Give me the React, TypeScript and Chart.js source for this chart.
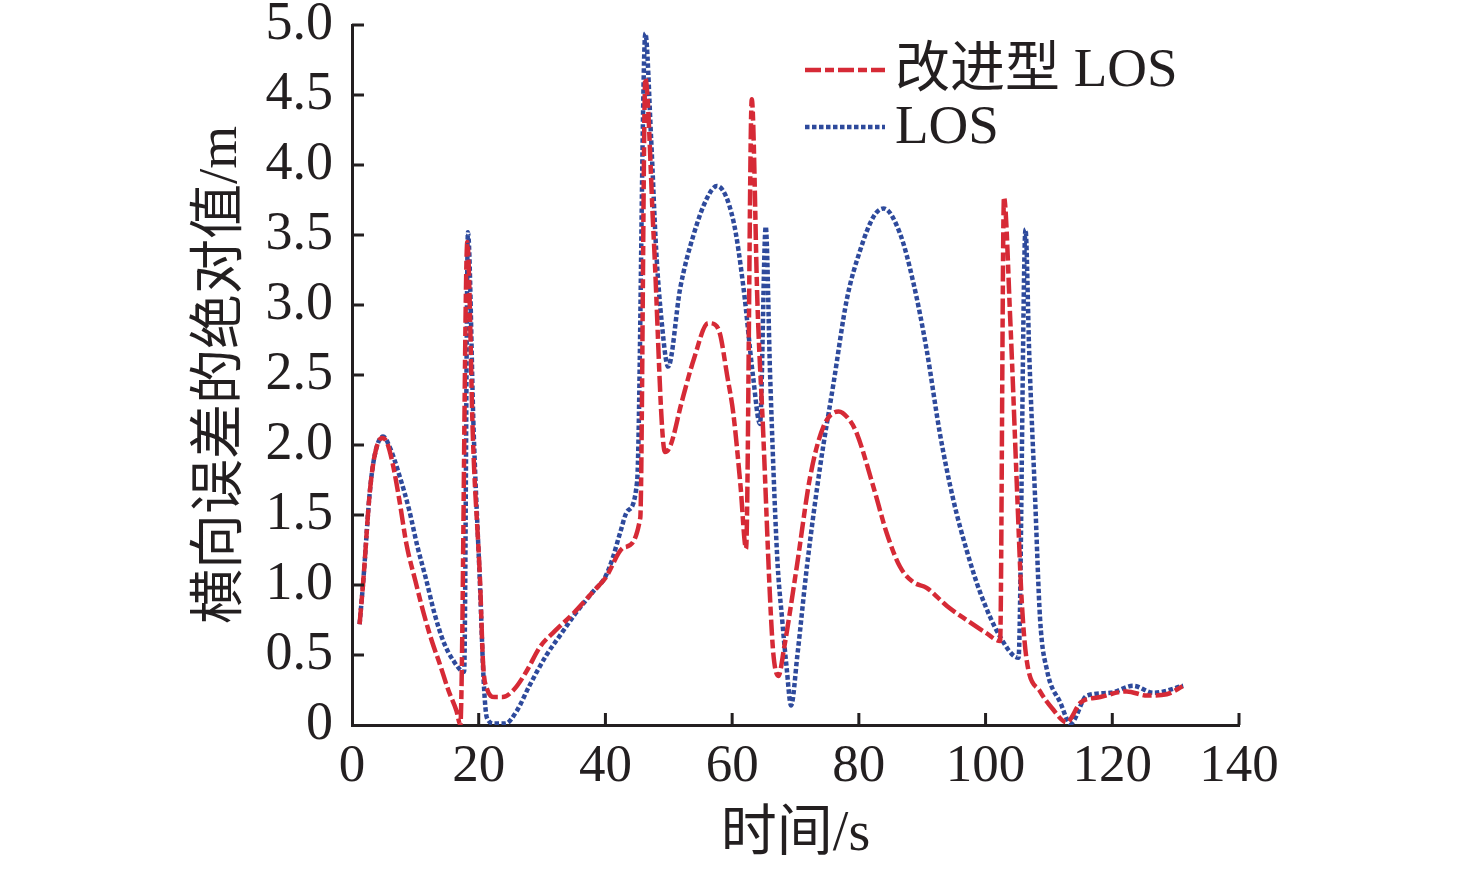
import { useEffect, useRef } from "react";
import { Chart, registerables, type Plugin } from "chart.js";

Chart.register(...registerables);

// 改进型 LOS
const improvedTime = [
  1.2, 1.8, 2.8, 3.6, 4.7, 5.5, 6.5, 7.5, 8.6, 10, 11.3, 12.6, 13.9, 15.2, 16.5, 17.1,
  18.2, 19.1, 20.2, 20.7, 21.3, 22.5, 23.8, 25.5, 27.5, 29.7, 32, 35, 38, 40, 43, 45.5,
  46.3, 47.6, 49.4, 50.3, 52, 54, 56.2, 57.3, 58.1, 59.2, 60.2, 61.3, 62.2, 63.1, 64,
  64.9, 66, 66.5, 67.3, 68.2, 70.2, 72.3, 74.4, 76.8, 78.5, 79.7, 82.3, 84.4, 86.5, 88.6,
  90.7, 93.9, 97, 100, 102.3, 102.9, 103.9, 105, 105.7, 106.5, 108.6, 110.5, 112.8, 115,
  118.1, 122.3, 125.5, 128.6, 131.2,
];
const improvedError = [
  0.72, 1.04, 1.66, 1.93, 2.05, 2.02, 1.85, 1.6, 1.29, 1.03, 0.8, 0.6, 0.43, 0.25, 0.1, 0.0,
  3.45, 2.03, 1.04, 0.43, 0.26, 0.2, 0.2, 0.25, 0.38, 0.56, 0.67, 0.8, 0.95, 1.05, 1.27, 1.48,
  4.62, 3.5, 1.95, 2.0, 2.3, 2.62, 2.87, 2.86, 2.79, 2.5, 2.22, 1.72, 1.26, 4.47, 3.0,
  2.09, 0.89, 0.51, 0.35, 0.55, 1.13, 1.77, 2.13, 2.24, 2.18, 2.08, 1.7, 1.37, 1.13, 1.02,
  0.98, 0.85, 0.75, 0.66, 0.6, 3.77, 2.89, 1.64, 0.89, 0.46, 0.24, 0.12, 0.02, 0.16,
  0.2, 0.24, 0.21, 0.22, 0.28,
];

// LOS
const losTime = [
  1.2, 1.8, 2.8, 3.6, 4.9, 6, 7.5, 9, 10.3, 11.7, 13, 14.4, 16, 17.7, 18.3, 19.2, 20.2,
  20.8, 21.3, 22.5, 24.2, 26, 28, 30.7, 33, 35, 38, 40, 41.2, 42.3, 43.5, 45, 46.3, 47.2, 48,
  48.9, 49.9, 51.8, 53.9, 56, 57.6, 60.2, 61.8, 63.3, 64.4, 65.3, 66, 67.1, 67.9, 68.6, 69.3,
  70.3, 71.8, 73.9, 76, 78.1, 80.2, 82.3, 83.9, 86.5, 88.6, 90.7, 92.8, 94.9, 97, 99.2, 102.3,
  105.2, 106.3, 106.9, 107.8, 108.6, 109.7, 111.8, 113.4, 116, 119.7, 123.3, 126.5, 131.2,
];
const losError = [
  0.72, 1.04, 1.66, 1.93, 2.06, 1.98, 1.78, 1.54, 1.28, 1.04, 0.8, 0.6, 0.46, 0.38, 3.52, 2.1, 1.0,
  0.3, 0.05, 0.01, 0.01, 0.1, 0.28, 0.5, 0.65, 0.78, 0.95, 1.06, 1.2, 1.37, 1.53, 1.74, 4.94, 4.2, 3.4,
  2.87, 2.56, 3.12, 3.5, 3.76, 3.85, 3.6, 3.12, 2.49, 2.15, 3.56, 2.49, 1.21, 0.75, 0.41, 0.14,
  0.5, 1.13, 1.85, 2.44, 3.04, 3.39, 3.63, 3.69, 3.51, 3.16, 2.68, 2.08, 1.61, 1.25, 0.94, 0.63,
  0.48, 3.54, 2.64, 1.64, 0.76, 0.39, 0.16, 0.01, 0.21, 0.23, 0.28, 0.23, 0.28,
];

const xTicks = [0, 20, 40, 60, 80, 100, 120, 140];
const yTicks = [0, 0.5, 1, 1.5, 2, 2.5, 3, 3.5, 4, 4.5, 5];
const seriesNames = ["改进型 LOS", "LOS"];

const FONT = '"Liberation Serif", "Noto Sans CJK SC", serif';
const INK = "#231f20";
const RED = "#d62a36";
const BLUE = "#2e4a9c";

// ticks drawn inward + legend in the upper right of the plot
const decorations: Plugin<"line"> = {
  id: "decorations",
  afterDraw(chart) {
    const { ctx, chartArea, scales } = chart;
    const x = scales.x;
    const y = scales.y;
    ctx.save();
    ctx.strokeStyle = INK;
    ctx.lineWidth = 3;
    ctx.beginPath();
    for (const v of yTicks) {
      if (v === 0) continue;
      const py = y.getPixelForValue(v);
      ctx.moveTo(chartArea.left, py);
      ctx.lineTo(chartArea.left + 12, py);
    }
    for (const v of xTicks) {
      if (v === 0) continue;
      const px = x.getPixelForValue(v);
      ctx.moveTo(px, chartArea.bottom);
      ctx.lineTo(px, chartArea.bottom - 12);
    }
    ctx.stroke();

    const left = 805;
    const rows = [70, 127];
    chart.data.datasets.forEach((ds: any, i) => {
      const ly = rows[i];
      ctx.strokeStyle = ds.borderColor;
      ctx.lineWidth = ds.borderWidth;
      ctx.setLineDash(ds.borderDash);
      ctx.beginPath();
      ctx.moveTo(left, ly);
      ctx.lineTo(left + 80, ly);
      ctx.stroke();
      ctx.setLineDash([]);
      ctx.fillStyle = INK;
      ctx.font = `55px ${FONT}`;
      ctx.textBaseline = "middle";
      ctx.textAlign = "left";
      ctx.fillText(ds.label, left + 90, ly + 2);
    });
    ctx.restore();
  },
};

export default function App() {
  const canvasRef = useRef<HTMLCanvasElement>(null);

  useEffect(() => {
    document.body.style.margin = "0";
    if (!canvasRef.current) return;
    const chart = new Chart(canvasRef.current, {
      type: "line",
      data: {
        datasets: [
          {
            label: seriesNames[0],
            data: improvedTime.map((t, i) => ({ x: t, y: improvedError[i] })),
            borderColor: RED,
            borderWidth: 4.5,
            borderDash: [16, 4, 9, 4],
            pointRadius: 0,
            cubicInterpolationMode: "monotone",
          },
          {
            label: seriesNames[1],
            data: losTime.map((t, i) => ({ x: t, y: losError[i] })),
            borderColor: BLUE,
            borderWidth: 4.5,
            borderDash: [4.5, 2.5],
            pointRadius: 0,
            cubicInterpolationMode: "monotone",
          },
        ],
      },
      options: {
        animation: false,
        responsive: false,
        devicePixelRatio: 1,
        layout: { padding: { left: 189, top: 25, right: 237, bottom: 0 } },
        plugins: {
          legend: { display: false },
          tooltip: { enabled: false },
        },
        scales: {
          x: {
            type: "linear",
            min: 0,
            max: 140,
            afterBuildTicks: (s) => {
              s.ticks = xTicks.map((value) => ({ value }));
            },
            afterFit: (s) => {
              s.height = 873 - 725;
            },
            grid: { display: false, drawTicks: false },
            border: { display: true, color: INK, width: 3 },
            ticks: {
              color: INK,
              padding: 16,
              maxRotation: 0,
              font: { family: FONT, size: 53, lineHeight: 1 },
            },
            title: {
              display: true,
              text: "时间/s",
              color: INK,
              padding: { top: 0, bottom: 4 },
              font: { family: FONT, size: 56, lineHeight: 1.2 },
            },
          },
          y: {
            type: "linear",
            min: 0,
            max: 5,
            afterBuildTicks: (s) => {
              s.ticks = yTicks.map((value) => ({ value }));
            },
            afterFit: (s) => {
              s.width = 352 - 189;
              s.paddingTop = 0;
              s.paddingBottom = 0;
            },
            grid: { display: false, drawTicks: false },
            border: { display: true, color: INK, width: 3 },
            ticks: {
              color: INK,
              padding: 19,
              callback: (v) => (Number(v) === 0 ? "0" : Number(v).toFixed(1)),
              font: { family: FONT, size: 54, lineHeight: 1 },
            },
            title: {
              display: true,
              text: "横向误差的绝对值/m",
              color: INK,
              padding: 0,
              font: { family: FONT, size: 55, lineHeight: 1.2 },
            },
          },
        },
      },
      plugins: [decorations],
    });
    return () => chart.destroy();
  }, []);

  return (
    <div style={{ width: 1476, height: 873, background: "#fff" }}>
      <canvas ref={canvasRef} width={1476} height={873} />
    </div>
  );
}
